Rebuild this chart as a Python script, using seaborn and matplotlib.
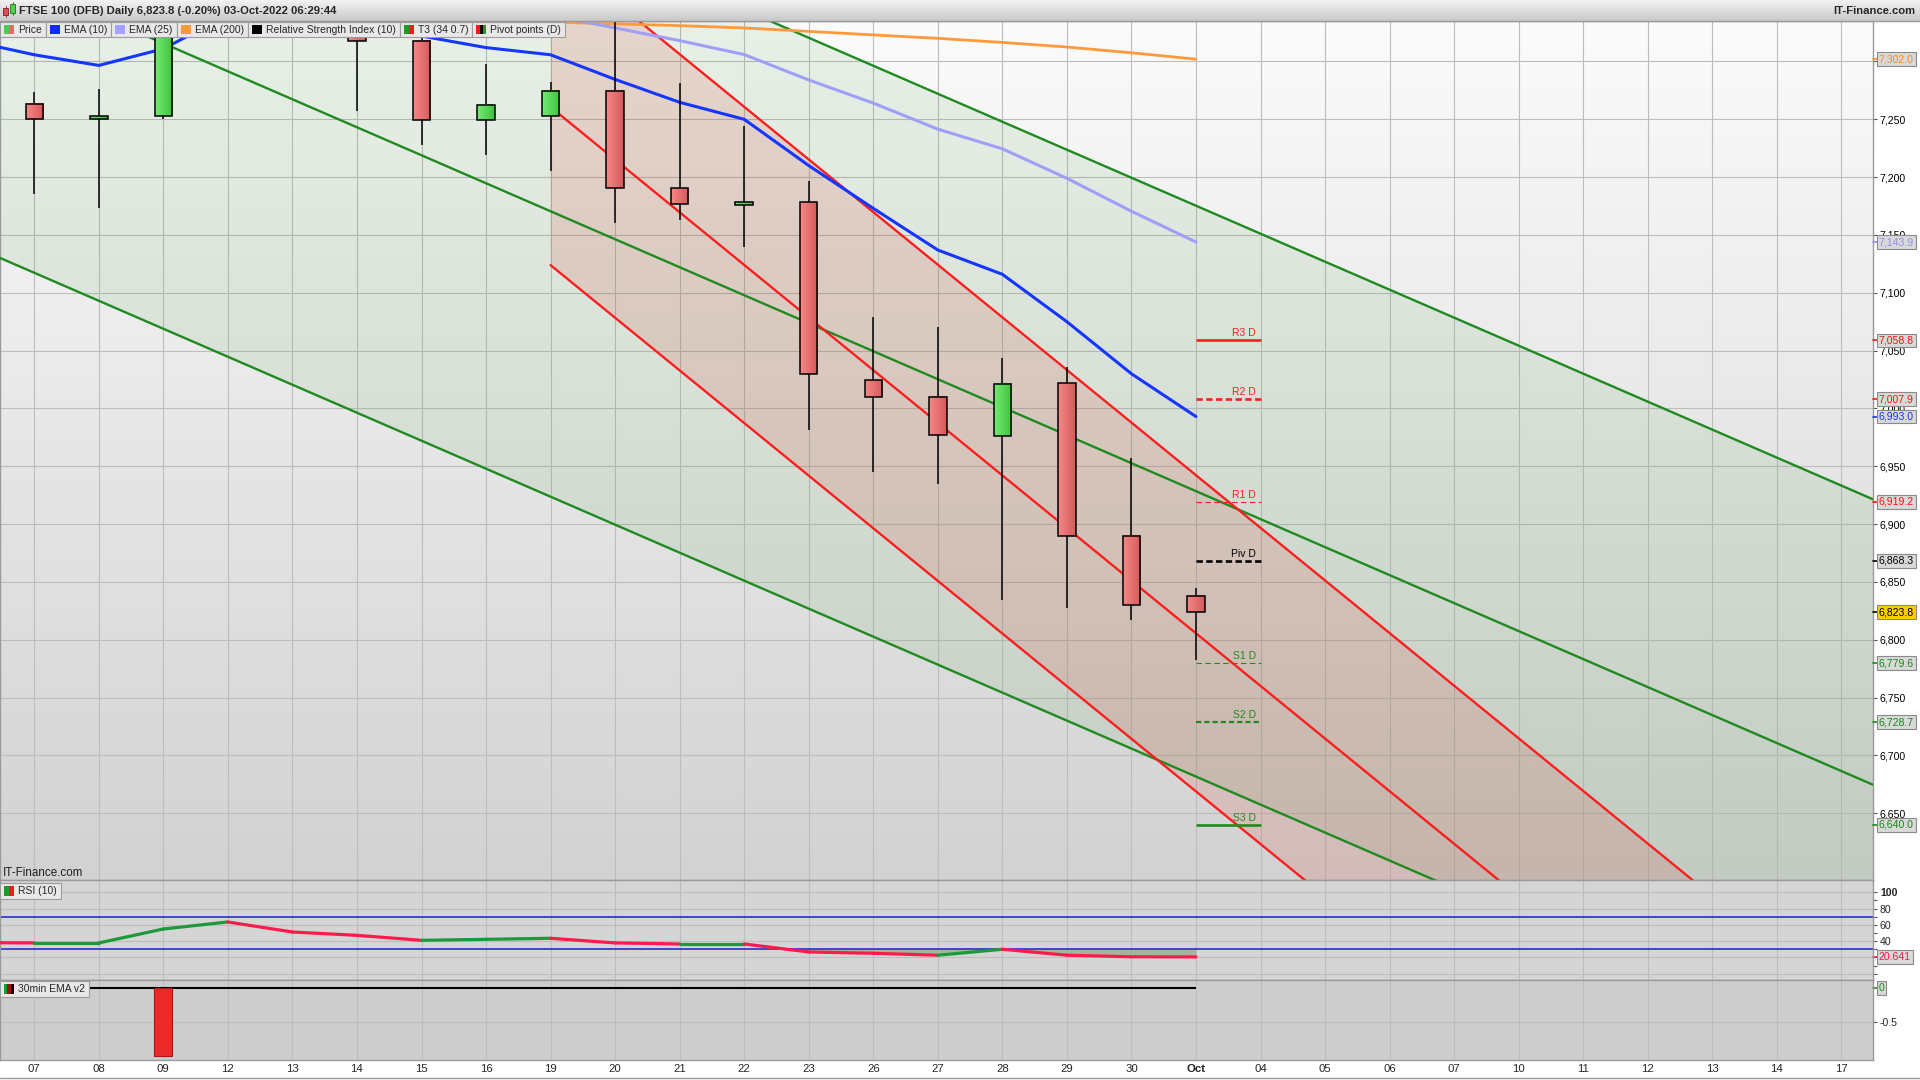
import matplotlib
matplotlib.use("Agg")

import numpy as np
import pandas as pd
import matplotlib.pyplot as plt
import seaborn as sns
import matplotlib.transforms as mtransforms
from matplotlib.patches import Rectangle
from matplotlib.colors import LinearSegmentedColormap


# ==========================================================================================
# Data
# ==========================================================================================

date_labels = ["07", "08", "09", "12", "13", "14", "15", "16", "19", "20",
               "21", "22", "23", "26", "27", "28", "29", "30", "Oct", "04",
               "05", "06", "07", "10", "11", "12", "13", "14", "17"]

candle_open = [7263.0, 7250.0, 7252.6, 7360.0, 7350.0, 7332.0, 7318.0, 7249.0, 7252.6, 7274.5,
               7190.4, 7176.0, 7178.4, 7024.6, 7010.0, 6976.2, 7022.0, 6889.8, 6838.0]
candle_high = [7273.6, 7276.0, 7360.0, 7385.0, 7370.0, 7345.0, 7340.0, 7298.0, 7282.0, 7345.0,
               7281.0, 7244.0, 7196.8, 7079.0, 7070.0, 7044.0, 7035.8, 6957.5, 6845.0]
candle_low = [7185.0, 7173.0, 7250.0, 7340.0, 7320.0, 7257.5, 7228.0, 7219.5, 7205.6, 7160.7,
              7163.0, 7139.2, 6981.0, 6944.8, 6934.5, 6834.0, 6827.3, 6816.9, 6782.7]
candle_close = [7250.0, 7252.5, 7345.0, 7375.0, 7362.0, 7318.0, 7249.0, 7262.0, 7274.5, 7190.4,
                7176.6, 7178.5, 7029.8, 7010.0, 6977.0, 7021.2, 6889.8, 6830.0, 6823.8]

# indicator series start one session before the first label (index -1)
ind_x = list(range(-1, 19))
ema10 = [7318.0, 7305.8, 7296.6, 7311.0, 7340.0, 7342.0, 7336.0, 7322.0, 7312.0, 7305.8,
         7284.5, 7264.7, 7250.0, 7210.0, 7173.0, 7137.0, 7116.0, 7075.0, 7030.0, 6993.0]
ema25 = [7380.0, 7376.0, 7372.0, 7370.0, 7368.0, 7365.0, 7360.0, 7352.0, 7346.0, 7340.0,
         7329.0, 7318.0, 7306.0, 7284.0, 7264.0, 7241.5, 7224.5, 7199.0, 7170.5, 7143.9]
ema200 = [7360.0, 7357.0, 7354.0, 7351.0, 7348.0, 7345.0, 7342.0, 7339.0, 7336.5, 7334.0,
          7332.5, 7331.0, 7329.0, 7326.0, 7323.0, 7320.0, 7316.5, 7312.5, 7307.5, 7302.0]
rsi10 = [38.2, 37.8, 37.8, 54.9, 63.5, 51.2, 47.1, 41.0, 42.2, 43.5,
         37.8, 36.5, 36.5, 26.7, 25.1, 22.7, 30.0, 22.7, 20.8, 20.641]
ema30min = [0.0, 0.0, 0.0, -1.0, 0.0, 0.0, 0.0, 0.0, 0.0, 0.0,
            0.0, 0.0, 0.0, 0.0, 0.0, 0.0, 0.0, 0.0, 0.0, 0.0]

pivot_names = ["R3 D", "R2 D", "R1 D", "Piv D", "S1 D", "S2 D", "S3 D"]
pivot_levels = [7058.8, 7007.9, 6919.2, 6868.3, 6779.6, 6728.7, 6640.0]

# trend channels: anchor x, centre-line values, half width
green_chan_x = [-1, 29]
green_chan_mid = [7388.3, 6662.3]
green_chan_half = 246.8
red_chan_x = [8, 29]
red_chan_mid = [7260.6, 6305.1]
red_chan_half = 136.7

last_price = 6823.8


# ==========================================================================================
# Style
# ==========================================================================================

sns.set_theme(style="white")
plt.rcParams["font.family"] = ["Liberation Sans", "DejaVu Sans"]
NARROW = ["Liberation Sans Narrow", "Liberation Sans", "DejaVu Sans"]

RED = "#fa1e1e"
GREEN = "#1f8a1f"
GRID = "#bdbdbd"
SPINE = "#9a9a9a"

X_MIN, X_MAX = -0.531, 28.49
Y_MIN, Y_MAX = 6592.3, 7335.0

fig = plt.figure(figsize=(19.2, 10.8), dpi=100)
fig.patch.set_facecolor("white")


def px_rect(x0, y0, x1, y1):
    return [x0 / 1920, 1 - y1 / 1080, (x1 - x0) / 1920, (y1 - y0) / 1080]


ax = fig.add_axes(px_rect(0, 21, 1873, 880))
ax_rsi = fig.add_axes(px_rect(0, 880, 1873, 980), sharex=ax)
ax_osc = fig.add_axes(px_rect(0, 980, 1873, 1060), sharex=ax)


# ==========================================================================================
# Main price panel
# ==========================================================================================

bg_cmap = LinearSegmentedColormap.from_list("bg", ["#fbfbfb", "#d2d2d2"])
ax.imshow(np.linspace(0, 1, 256)[:, None], cmap=bg_cmap, aspect="auto",
          extent=[X_MIN, X_MAX, Y_MIN, Y_MAX], zorder=0, interpolation="bilinear")

# channels
gx = np.array(green_chan_x, dtype=float)
gm = np.array(green_chan_mid)
ax.fill_between(gx, gm - green_chan_half, gm + green_chan_half,
                color="#2e8b2e", alpha=0.09, lw=0, zorder=1)
rx = np.array(red_chan_x, dtype=float)
rm = np.array(red_chan_mid)
ax.fill_between(rx, rm - red_chan_half, rm + red_chan_half,
                color="#d83c2c", alpha=0.15, lw=0, zorder=1.1)

chan_df = pd.DataFrame({
    "x": np.concatenate([gx, gx, gx, rx, rx, rx]),
    "y": np.concatenate([gm + green_chan_half, gm, gm - green_chan_half,
                         rm + red_chan_half, rm, rm - red_chan_half]),
    "line": ["g_top"] * 2 + ["g_mid"] * 2 + ["g_bot"] * 2 + ["r_top"] * 2 + ["r_mid"] * 2 + ["r_bot"] * 2,
})
chan_palette = {"g_top": GREEN, "g_mid": GREEN, "g_bot": GREEN,
                "r_top": RED, "r_mid": RED, "r_bot": RED}
sns.lineplot(data=chan_df, x="x", y="y", hue="line", palette=chan_palette,
             estimator=None, legend=False, linewidth=1.7, ax=ax, zorder=3)

# moving averages
ema_df = pd.DataFrame({"x": ind_x, "ema10": ema10, "ema25": ema25, "ema200": ema200})
sns.lineplot(data=ema_df, x="x", y="ema200", color="#ff9a3c", linewidth=2.0, ax=ax, zorder=3.2)
sns.lineplot(data=ema_df, x="x", y="ema25", color="#9f9ff8", linewidth=2.2, ax=ax, zorder=3.3)
sns.lineplot(data=ema_df, x="x", y="ema10", color="#1436ff", linewidth=2.2, ax=ax, zorder=3.4)

# candles
body_w = 0.27
red_cmap = LinearSegmentedColormap.from_list("rb", ["#f78787", "#d55a5a"])
green_cmap = LinearSegmentedColormap.from_list("gb", ["#74ea74", "#3ec23e"])
hgrad = np.linspace(0, 1, 32)[None, :]
cx = np.arange(len(candle_open))
ax.vlines(cx, candle_low, candle_high, color="black", lw=1.1, zorder=4)
for i, (o, c) in enumerate(zip(candle_open, candle_close)):
    lo, hi = min(o, c), max(o, c)
    cmap = green_cmap if c >= o else red_cmap
    ax.imshow(hgrad, cmap=cmap, aspect="auto", interpolation="bilinear",
              extent=[i - body_w / 2, i + body_w / 2, lo, hi], zorder=5)
    ax.add_patch(Rectangle((i - body_w / 2, lo), body_w, hi - lo, fill=False,
                           ec="black", lw=1.1, zorder=6))

# daily pivot points
pivot_colors = [RED, RED, RED, "black", GREEN, GREEN, GREEN]
pivot_styles = ["-", (0, (2.4, 1.3)), (0, (5, 3)), (0, (2.4, 1.3)), (0, (5, 3)), (0, (2.4, 1.3)), "-"]
pivot_widths = [1.9, 1.9, 0.8, 1.9, 0.8, 1.6, 1.9]
piv_x0 = date_labels.index("Oct")
for name, lvl, col, ls, lw in zip(pivot_names, pivot_levels, pivot_colors, pivot_styles, pivot_widths):
    ax.hlines(lvl, piv_x0, piv_x0 + 1, colors=col, linestyles=ls, lw=lw, zorder=4)
    ax.annotate(name, (piv_x0 + 0.93, lvl), xytext=(0, 1.5), textcoords="offset points",
                ha="right", va="bottom", fontsize=7.5, color=col, zorder=7)

ax.set_xlim(X_MIN, X_MAX)
ax.set_ylim(Y_MIN, Y_MAX)
ax.set_xticks(range(len(date_labels)))
ax.set_yticks(np.arange(6650, 7301, 50))
ax.yaxis.set_major_formatter(matplotlib.ticker.StrMethodFormatter("{x:,.0f}"))
ax.yaxis.tick_right()
ax.tick_params(axis="y", right=True, left=False, length=3, width=0.8, color="#555555",
               pad=2, labelsize=7.6, labelcolor="black")
ax.tick_params(axis="x", bottom=False, labelbottom=False)
ax.grid(True, color=GRID, lw=0.8)
ax.set_xlabel("")
ax.set_ylabel("")

# last-value boxes on the price axis (they sit over the plain tick labels, as in the original)
trans = mtransforms.blended_transform_factory(ax.transAxes, ax.transData)
value_boxes = [
    (ema200[-1], "#ff8a1a", "#d9d9d9"),
    (ema25[-1], "#8f8ff0", "#d9d9d9"),
    (pivot_levels[0], "#ff1010", "#d9d9d9"),
    (pivot_levels[1], "#ff1010", "#d9d9d9"),
    (ema10[-1], "#1436ff", "#d9d9d9"),
    (pivot_levels[2], "#ff1010", "#d9d9d9"),
    (pivot_levels[3], "black", "#d9d9d9"),
    (last_price, "black", "#ffcc00"),
    (pivot_levels[4], "#138a13", "#d9d9d9"),
    (pivot_levels[5], "#138a13", "#d9d9d9"),
    (pivot_levels[6], "#138a13", "#d9d9d9"),
]
for val, col, fc in value_boxes:
    ax.plot([1.0, 1.0028], [val, val], transform=trans, color=col, lw=1.2,
            clip_on=False, zorder=19)
    ax.text(1.0031, val, f"{val:,.1f}", transform=trans, color=col, fontsize=7.6,
            ha="left", va="center", clip_on=False, zorder=20,
            bbox=dict(boxstyle="square,pad=0.18", fc=fc, ec="#8a8a8a", lw=0.8))
# the 7,300 label is fully covered by the EMA(200) box in the original
for lab in ax.get_yticklabels():
    if lab.get_text() == "7,300":
        lab.set_visible(False)


# ==========================================================================================
# RSI panel
# ==========================================================================================

ax_rsi.set_facecolor("#d5d5d5")
rows = []
for k in range(len(rsi10) - 1):
    seg = f"s{k}"
    for j in (k, k + 1):
        rows.append({"x": ind_x[j], "rsi": rsi10[j], "seg": seg})
rsi_df = pd.DataFrame(rows)
seg_palette = {f"s{k}": ("#ff1a4d" if rsi10[k + 1] < rsi10[k] else "#1c9a3a")
               for k in range(len(rsi10) - 1)}
rsi_arr = np.array(rsi10)
ax_rsi.fill_between(ind_x, rsi_arr, 30, where=rsi_arr < 30, interpolate=True,
                    color="#a3b59f", lw=0, zorder=1)
ax_rsi.axhline(70, color="#2a2ad8", lw=1.2, zorder=2)
ax_rsi.axhline(30, color="#2a2ad8", lw=1.2, zorder=2)
sns.lineplot(data=rsi_df, x="x", y="rsi", hue="seg", palette=seg_palette,
             estimator=None, legend=False, linewidth=2.3, ax=ax_rsi, zorder=3)

ax_rsi.set_ylim(-7.7, 115)
ax_rsi.set_yticks([0, 20, 40, 60, 80, 100])
ax_rsi.set_yticklabels(["", "", "40", "60", "80", "100"])
ax_rsi.set_yticks([10, 30, 50, 70, 90], minor=True)
ax_rsi.yaxis.tick_right()
ax_rsi.tick_params(axis="y", which="both", right=True, left=False, length=3, width=0.8,
                   color="#555555", pad=2, labelsize=7.6)
ax_rsi.get_yticklabels()[-1].set_fontweight("bold")
ax_rsi.tick_params(axis="x", bottom=False, labelbottom=False)
ax_rsi.grid(True, which="major", color=GRID, lw=0.8)
ax_rsi.set_xlabel("")
ax_rsi.set_ylabel("")
trans_rsi = mtransforms.blended_transform_factory(ax_rsi.transAxes, ax_rsi.transData)
ax_rsi.plot([1.0, 1.0028], [rsi10[-1]] * 2, transform=trans_rsi, color="#ff1a4d",
            lw=1.2, clip_on=False)
ax_rsi.text(1.0031, rsi10[-1], f"{rsi10[-1]:.3f}", transform=trans_rsi, color="#ff1a4d",
            fontsize=7.6, ha="left", va="center", clip_on=False, zorder=20,
            bbox=dict(boxstyle="square,pad=0.18", fc="#d9d9d9", ec="#8a8a8a", lw=0.8))


# ==========================================================================================
# 30min EMA v2 panel
# ==========================================================================================

ax_osc.set_facecolor("#cdcdcd")
ax_osc.hlines(0, ind_x[0], ind_x[-1], color="black", lw=1.5, zorder=3)
osc_x = [x for x, v in zip(ind_x, ema30min) if v != 0]
osc_v = [v for v in ema30min if v != 0]
ax_osc.bar(osc_x, osc_v, width=0.28, color="#ec2a2a", edgecolor="#b01414",
           lw=0.8, zorder=4)
ax_osc.set_ylim(-1.055, 0.122)
ax_osc.set_yticks([-0.5])
ax_osc.set_yticklabels(["-0.5"])
ax_osc.yaxis.tick_right()
ax_osc.tick_params(axis="y", right=True, left=False, length=3, width=0.8,
                   color="#555555", pad=2, labelsize=7.6)
ax_osc.set_xticks(range(len(date_labels)))
ax_osc.set_xticklabels(date_labels, fontsize=8.2, family=NARROW)
for lab in ax_osc.get_xticklabels():
    if lab.get_text() == "Oct":
        lab.set_fontweight("bold")
ax_osc.tick_params(axis="x", bottom=False, length=0, pad=3)
ax_osc.grid(True, color=GRID, lw=0.8)
ax_osc.set_xlabel("")
ax_osc.set_ylabel("")
trans_osc = mtransforms.blended_transform_factory(ax_osc.transAxes, ax_osc.transData)
ax_osc.plot([1.0, 1.0028], [0, 0], transform=trans_osc, color="#138a13", lw=1.2,
            clip_on=False)
ax_osc.text(1.0031, 0, "0", transform=trans_osc, color="#138a13", fontsize=7.6,
            ha="left", va="center", clip_on=False, zorder=20,
            bbox=dict(boxstyle="square,pad=0.18", fc="#d9d9d9", ec="#8a8a8a", lw=0.8))

for a in (ax, ax_rsi, ax_osc):
    a.set_xlim(X_MIN, X_MAX)
    for s in a.spines.values():
        s.set_color(SPINE)
        s.set_linewidth(1.0)


# ==========================================================================================
# Chrome: title bar, legend row, panel labels (figure pixel coordinates)
# ==========================================================================================

ov = fig.add_axes([0, 0, 1, 1], zorder=10)
ov.patch.set_alpha(0)
ov.axis("off")

bar_cmap = LinearSegmentedColormap.from_list("bar", ["#f2f2f2", "#c9c9c9"])
ov.imshow(np.linspace(0, 1, 64)[:, None], cmap=bar_cmap, aspect="auto",
          extent=[0, 1920, 21, 0], interpolation="bilinear", zorder=1)
ov.plot([0, 1920], [21, 21], color="#9a9a9a", lw=1.0, zorder=2)
ov.set_xlim(0, 1920)
ov.set_ylim(1080, 0)

# small candle icon
ov.add_patch(Rectangle((3, 8), 5, 7, fc="#e05050", ec="#802020", lw=0.6, zorder=3))
ov.plot([5.5, 5.5], [6, 17], color="#802020", lw=0.6, zorder=2.5)
ov.add_patch(Rectangle((10, 4), 5, 9, fc="#50d050", ec="#207020", lw=0.6, zorder=3))
ov.plot([12.5, 12.5], [2, 15], color="#207020", lw=0.6, zorder=2.5)

ov.text(19, 11, "FTSE 100 (DFB) Daily 6,823.8 (-0.20%) 03-Oct-2022 06:29:44",
        fontsize=8.1, fontweight="bold", family=NARROW, ha="left", va="center", zorder=3)
ov.text(1915, 11, "IT-Finance.com", fontsize=8.1, fontweight="bold", family=NARROW,
        ha="right", va="center", zorder=3)

renderer = fig.canvas.get_renderer()


def label_box(x0, y0, y1, text, colors, fs=7.5):
    t = ov.text(x0 + 18, (y0 + y1) / 2 + 0.5, text, fontsize=fs, ha="left",
                va="center", zorder=6)
    w = t.get_window_extent(renderer).width + 22
    ov.add_patch(Rectangle((x0, y0), w, y1 - y0, fc="#e8e8e8", ec="#9c9c9c",
                           lw=0.8, zorder=4))
    sw = 10.0 / len(colors)
    for k, c in enumerate(colors):
        ov.add_patch(Rectangle((x0 + 4 + k * sw, y0 + 3), sw, y1 - y0 - 6,
                               fc=c, ec="none", zorder=5))
    return x0 + w


legend_items = [
    ("Price", ["#4ccd4c", "#e86868"]),
    ("EMA (10)", ["#0a2cff"]),
    ("EMA (25)", ["#a3a3ff"]),
    ("EMA (200)", ["#ff9a3c"]),
    ("Relative Strength Index (10)", ["black"]),
    ("T3 (34 0.7)", ["#1c9a2a", "#ee1c1c"]),
    ("Pivot points (D)", ["#ee1c1c", "black", "#1c9a2a"]),
]
lx = 0
for name, cols in legend_items:
    lx = label_box(lx, 22, 37, name, cols)

ov.text(3, 879, "IT-Finance.com", fontsize=8.4, color="#202020", ha="left",
        va="bottom", zorder=6)
label_box(0, 883, 899, "RSI (10)", ["#1c9a2a", "#ee1c1c"])
label_box(0, 981, 997, "30min EMA v2", ["#1c9a2a", "#a01010", "black"])

ov.plot([0, 1920], [1078, 1078], color="#9a9a9a", lw=1.0, zorder=2)

fig.savefig("out.png", dpi=100, facecolor="white")
